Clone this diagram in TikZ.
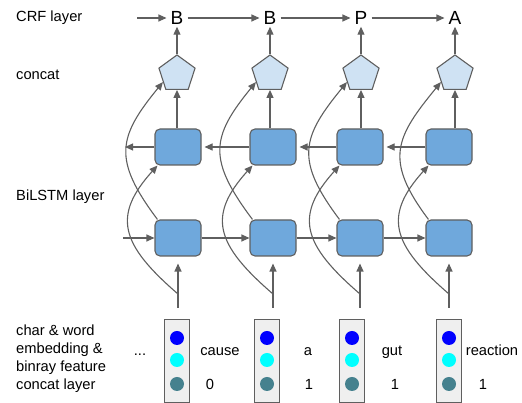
\documentclass[tikz,border=0pt]{standalone}
\usepackage{fontspec}
\setmainfont{Liberation Sans}
\usetikzlibrary{arrows.meta,shapes.geometric}

\definecolor{linegray}{HTML}{5F5F5F}
\definecolor{cellblue}{HTML}{6FA8DC}
\definecolor{concatblue}{HTML}{CFE2F3}
\definecolor{vecgray}{HTML}{EFEFEF}
\definecolor{embblue}{HTML}{0000FF}
\definecolor{embcyan}{HTML}{00FFFF}
\definecolor{embteal}{HTML}{45818E}

\begin{document}
\begin{tikzpicture}[x = 1pt, y = 1pt,
		arr/.style = {draw = linegray, line width = 1.1pt, -{Triangle[length = 8pt, width = 7pt]}},
		cell/.style = {fill = cellblue, draw = linegray, line width = 1.1pt, rounded corners = 5pt, minimum width = 46pt, minimum height = 36pt},
		concat/.style = {regular polygon, regular polygon sides = 5, fill = concatblue, draw = linegray, line width = 1.1pt, minimum size = 38pt, inner sep = 0pt},
		tag/.style = {font = \fontsize{19}{21}\selectfont, inner xsep = 4pt, inner ysep = 2pt},
		vec/.style = {fill = vecgray, draw = linegray, line width = 1.1pt, minimum width = 25pt, minimum height = 83pt, inner sep = 0pt},
		dot/.style = {circle, minimum size = 14pt, inner sep = 0pt},
		txt/.style = {font = \fontsize{14.7}{18}\selectfont, inner sep = 0pt}
	]
	\useasboundingbox (0, 0) rectangle (522, 403);

	\node [txt, anchor = west] (crf) at (16, 385) {CRF layer};
	\node [txt, anchor = west] (cat) at (16, 328) {concat};
	\node [txt, anchor = west] (bil) at (16, 206) {BiLSTM layer};
	\node [txt, anchor = west, align = left] (emb) at (16, 44) {char \& word\\embedding \&\\binray feature\\concat layer};

	\coordinate (l0) at (137, 385);
	\node [tag] (l1) at (177, 385) {B};
	\node [tag] (l2) at (270, 385) {B};
	\node [tag] (l3) at (361, 385) {P};
	\node [tag] (l4) at (455, 385) {A};

	\node [concat] (c1) at (177, 329) {};
	\node [concat] (c2) at (270, 329) {};
	\node [concat] (c3) at (361, 329) {};
	\node [concat] (c4) at (455, 329) {};

	\node [cell] (b1) at (178, 256) {};
	\node [cell] (b2) at (273, 256) {};
	\node [cell] (b3) at (360, 256) {};
	\node [cell] (b4) at (449, 256) {};
	\coordinate (b0) at (125, 256);

	\node [cell] (f1) at (178, 165) {};
	\node [cell] (f2) at (273, 165) {};
	\node [cell] (f3) at (360, 165) {};
	\node [cell] (f4) at (449, 165) {};
	\coordinate (f0) at (123, 165);

	\node [vec] (v1) at (177, 42) {};
	\node [vec] (v2) at (267, 42) {};
	\node [vec] (v3) at (352, 42) {};
	\node [vec] (v4) at (449, 42) {};

	\node [dot, fill = embblue] (v1a) at (177, 65) {};
	\node [dot, fill = embcyan] (v1b) at (177, 43) {};
	\node [dot, fill = embteal] (v1c) at (177, 19) {};
	\node [dot, fill = embblue] (v2a) at (267, 65) {};
	\node [dot, fill = embcyan] (v2b) at (267, 43) {};
	\node [dot, fill = embteal] (v2c) at (267, 19) {};
	\node [dot, fill = embblue] (v3a) at (352, 65) {};
	\node [dot, fill = embcyan] (v3b) at (352, 43) {};
	\node [dot, fill = embteal] (v3c) at (352, 19) {};
	\node [dot, fill = embblue] (v4a) at (449, 65) {};
	\node [dot, fill = embcyan] (v4b) at (449, 43) {};
	\node [dot, fill = embteal] (v4c) at (449, 19) {};

	\node [txt, anchor = base] (etc) at (140, 47) {...};
	\node [txt, anchor = base] (w1) at (220, 47) {cause};
	\node [txt, anchor = base] (w2) at (308, 47) {a};
	\node [txt, anchor = base] (w3) at (392, 47) {gut};
	\node [txt, anchor = base] (w4) at (492, 47) {reaction};
	\node [txt, anchor = base] (n1) at (210, 13) {0};
	\node [txt, anchor = base] (n2) at (309, 13) {1};
	\node [txt, anchor = base] (n3) at (395, 13) {1};
	\node [txt, anchor = base] (n4) at (483, 13) {1};

	\coordinate (s1) at (178, 95);
	\coordinate (s2) at (273, 95);
	\coordinate (s3) at (360, 95);
	\coordinate (s4) at (449, 95);
	\coordinate (j1) at (178, 109);
	\coordinate (j2) at (273, 109);
	\coordinate (j3) at (360, 109);
	\coordinate (j4) at (449, 109);

	% CRF chain
	\draw [arr] (l0) -- (l1);
	\draw [arr] (l1) -- (l2);
	\draw [arr] (l2) -- (l3);
	\draw [arr] (l3) -- (l4);

	\draw [arr] (c1) -- (l1);
	\draw [arr] (c2) -- (l2);
	\draw [arr] (c3) -- (l3);
	\draw [arr] (c4) -- (l4);

	\draw [arr] (b1.north -| c1) -- (c1);
	\draw [arr] (b2.north -| c2) -- (c2);
	\draw [arr] (b3.north -| c3) -- (c3);
	\draw [arr] (b4.north -| c4) -- (c4);

	% backward
	\draw [arr] (b1) -- (b0);
	\draw [arr, shorten >= 3pt] (b2) -- (b1);
	\draw [arr, shorten >= 3pt] (b3) -- (b2);
	\draw [arr, shorten >= 3pt] (b4) -- (b3);

	% forward
	\draw [arr] (f0) -- (f1);
	\draw [arr] (f1) -- (f2);
	\draw [arr] (f2) -- (f3);
	\draw [arr] (f3) -- (f4);

	% inputs
	\draw [arr, shorten >= 7pt] (s1) -- (f1);
	\draw [arr, shorten >= 7pt] (s2) -- (f2);
	\draw [arr, shorten >= 7pt] (s3) -- (f3);
	\draw [arr, shorten >= 7pt] (s4) -- (f4);

	\draw [arr] (j1) .. controls +(-58, 50) and +(-45, -50) .. ([xshift = 3pt]b1.south west);
	\draw [arr] (j2) .. controls +(-58, 50) and +(-45, -50) .. ([xshift = 3pt]b2.south west);
	\draw [arr] (j3) .. controls +(-58, 50) and +(-45, -50) .. ([xshift = 3pt]b3.south west);
	\draw [arr] (j4) .. controls +(-58, 50) and +(-45, -50) .. ([xshift = 3pt]b4.south west);

	\draw [arr] ([xshift = 3pt]f1.north west) .. controls +(-45, 60) and +(-45, -55) .. (c1.210);
	\draw [arr] ([xshift = 3pt]f2.north west) .. controls +(-45, 60) and +(-45, -55) .. (c2.210);
	\draw [arr] ([xshift = 3pt]f3.north west) .. controls +(-45, 60) and +(-45, -55) .. (c3.210);
	\draw [arr] ([xshift = 3pt]f4.north west) .. controls +(-45, 60) and +(-45, -55) .. (c4.210);
\end{tikzpicture}
\end{document}
